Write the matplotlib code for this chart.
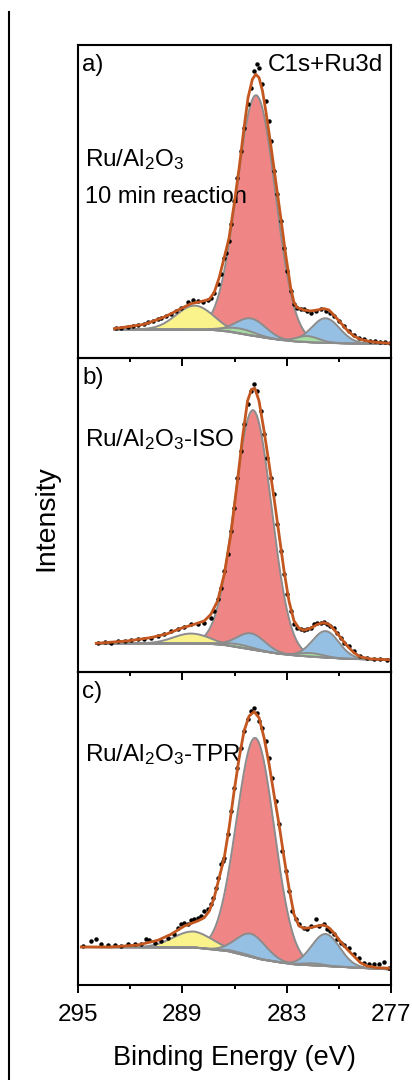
import numpy as np
import matplotlib
matplotlib.use('Agg')
import matplotlib.pyplot as plt
from matplotlib.lines import Line2D

plt.rcParams['font.family'] = ['Liberation Sans', 'DejaVu Sans']
plt.rcParams['mathtext.fontset'] = 'custom'
plt.rcParams['mathtext.rm'] = 'Liberation Sans'
plt.rcParams['mathtext.it'] = 'Liberation Sans:italic'
plt.rcParams['mathtext.default'] = 'regular'

# ---------------- data (binding energy in eV, intensity in a.u.) ----------------
# Panel a) Ru/Al2O3 10 min reaction
a_be = [292.80, 292.52, 292.13, 291.85, 291.56, 291.18, 290.99, 290.70, 290.41, 290.22,
        289.94, 289.65, 289.36, 289.08, 288.69, 288.41, 288.12, 287.83, 287.55, 287.36,
        287.17, 286.97, 286.78, 286.59, 286.50, 286.31, 286.21, 286.02, 285.83, 285.64,
        285.45, 285.25, 285.06, 284.87, 284.68, 284.59, 284.39, 284.20, 284.01, 283.92,
        283.73, 283.53, 283.34, 283.15, 282.96, 282.77, 282.58, 282.39, 282.20, 282.01,
        281.81, 281.62, 281.34, 281.05, 280.76, 280.48, 280.29, 280.00, 279.71, 279.43,
        279.14, 278.85, 278.57, 278.18, 277.90, 277.61, 277.32, 277.04]
a_int = [30.0, 30.7, 31.3, 32.3, 33.0, 34.7, 36.7, 37.3, 39.0, 40.0,
         42.3, 44.7, 47.3, 50.7, 56.7, 58.0, 57.3, 56.7, 58.0, 60.7,
         65.7, 74.0, 84.0, 100.7, 105.7, 117.3, 134.0, 157.3, 180.7, 207.3,
         230.7, 254.0, 270.7, 287.3, 294.0, 290.7, 274.0, 257.3, 237.3, 217.3,
         187.3, 164.0, 137.3, 110.7, 87.3, 67.3, 54.0, 50.7, 49.0, 49.0,
         47.3, 45.7, 47.3, 49.0, 47.3, 45.7, 42.3, 37.3, 32.3, 27.3,
         23.3, 20.7, 19.0, 17.3, 17.3, 16.3, 16.3, 15.7]
a_fit_be = [292.90, 291.18, 290.03, 289.27, 288.50, 287.93, 287.45, 287.17, 286.88, 286.59,
            286.31, 286.02, 285.73, 285.45, 285.22, 284.97, 284.78, 284.59, 284.39, 284.20,
            283.92, 283.63, 283.34, 283.06, 282.77, 282.58, 282.39, 282.01, 281.62, 281.24,
            280.86, 280.57, 280.29, 279.90, 279.52, 279.14, 278.76, 278.18, 277.61, 277.04]
a_fit_int = [29.7, 34.0, 41.3, 48.0, 54.7, 56.7, 59.0, 65.7, 80.7, 100.7,
             120.7, 154.0, 190.7, 230.7, 260.7, 279.0, 284.0, 280.7, 267.3, 247.3,
             214.0, 177.3, 140.7, 104.0, 70.7, 55.7, 50.7, 48.3, 47.3, 48.3,
             49.7, 48.3, 43.3, 35.7, 28.0, 22.3, 19.0, 16.7, 15.7, 15.0]
a_bg_be = [292.90, 287.36, 286.40, 285.45, 284.49, 283.53, 282.58, 281.62, 279.71, 277.04]
a_bg_int = [29.0, 28.6, 27.0, 24.0, 21.3, 18.8, 17.0, 16.0, 15.0, 14.5]
# components: red, yellow, blue, green, blue, green
a_centers = [284.75, 288.30, 285.06, 285.70, 280.76, 281.80]
a_heights = [241.0, 24.0, 17.0, 5.0, 24.5, 6.0]
a_fwhm = [2.6, 2.5, 2.0, 2.0, 1.9, 1.5]

# Panel b) Ru/Al2O3-ISO
b_be = [293.85, 293.47, 293.09, 292.71, 292.32, 291.94, 291.56, 291.18, 290.80, 290.41,
        290.03, 289.65, 289.27, 288.88, 288.50, 288.12, 287.74, 287.36, 287.17, 286.97,
        286.78, 286.59, 286.40, 286.21, 286.02, 285.83, 285.64, 285.45, 285.25, 285.06,
        284.87, 284.68, 284.49, 284.30, 284.11, 283.92, 283.73, 283.53, 283.34, 283.15,
        282.96, 282.77, 282.58, 282.39, 282.20, 282.01, 281.81, 281.62, 281.43, 281.24,
        281.05, 280.86, 280.67, 280.48, 280.29, 280.09, 279.90, 279.71, 279.43, 279.14,
        278.76, 278.37, 277.99, 277.61, 277.23]
b_int = [29.0, 30.0, 29.0, 30.7, 30.7, 31.3, 32.3, 33.0, 34.0, 35.7,
         37.3, 40.7, 42.3, 44.7, 47.3, 47.3, 49.0, 54.0, 60.7, 72.3,
         84.0, 100.7, 117.3, 140.7, 164.0, 194.0, 220.7, 247.3, 267.3, 280.7,
         287.3, 280.7, 260.7, 237.3, 214.0, 194.0, 177.3, 147.3, 120.7, 97.3,
         77.3, 60.7, 47.3, 44.0, 42.3, 41.3, 42.3, 44.0, 47.3, 49.0,
         49.0, 49.7, 47.3, 45.7, 43.3, 39.0, 34.0, 29.0, 25.7, 20.7,
         15.7, 14.0, 12.7, 12.7, 12.0]
b_fit_be = [293.95, 292.13, 290.80, 289.84, 289.08, 288.31, 287.74, 287.36, 286.97, 286.59,
            286.21, 285.83, 285.54, 285.25, 285.02, 284.83, 284.59, 284.30, 284.01, 283.73,
            283.44, 283.15, 282.87, 282.58, 282.29, 282.01, 281.62, 281.24, 280.86, 280.57,
            280.29, 279.90, 279.52, 279.14, 278.76, 278.18, 277.04]
b_fit_int = [28.3, 30.7, 34.0, 38.0, 43.3, 47.3, 50.7, 57.3, 70.7, 97.3,
             137.3, 190.7, 234.0, 270.7, 282.3, 283.3, 270.7, 240.7, 207.3, 174.0,
             137.3, 100.7, 70.7, 50.7, 43.3, 41.3, 43.3, 47.3, 49.0, 47.3,
             42.3, 34.0, 25.7, 19.0, 14.7, 12.7, 11.7]
b_bg_be = [293.95, 287.50, 286.59, 285.50, 284.49, 283.50, 282.58, 281.60, 279.71, 277.04]
b_bg_int = [28.3, 28.0, 26.7, 23.5, 20.7, 18.0, 16.3, 15.0, 13.0, 11.7]
b_centers = [284.93, 288.50, 285.06, 285.80, 280.76, 281.60]
b_heights = [239.5, 10.0, 16.0, 3.0, 26.4, 3.5]
b_fwhm = [2.5, 2.4, 1.9, 2.0, 1.8, 1.6]

# Panel c) Ru/Al2O3-TPR
c_be = [294.71, 294.24, 293.95, 293.66, 293.28, 292.90, 292.52, 292.13, 291.75, 291.37,
        291.08, 290.89, 290.60, 290.22, 289.84, 289.46, 289.27, 289.08, 288.88, 288.69,
        288.50, 288.31, 288.12, 287.93, 287.74, 287.55, 287.36, 287.26, 287.07, 286.97,
        286.78, 286.69, 286.59, 286.40, 286.21, 286.02, 285.83, 285.64, 285.45, 285.25,
        285.06, 284.87, 284.68, 284.59, 284.39, 284.20, 284.01, 283.82, 283.63, 283.44,
        283.25, 283.06, 282.87, 282.67, 282.48, 282.29, 282.01, 281.81, 281.62, 281.34,
        281.15, 280.86, 280.67, 280.48, 280.29, 280.09, 279.90, 279.71, 279.43, 279.14,
        278.85, 278.57, 278.28, 277.99, 277.71, 277.42, 277.13]
c_int = [38.7, 44.0, 46.3, 41.3, 40.0, 39.7, 39.0, 40.7, 41.3, 40.7,
         45.7, 44.7, 42.3, 44.0, 47.3, 50.7, 57.3, 60.7, 62.3, 60.7,
         64.7, 65.7, 67.3, 69.0, 74.0, 75.7, 80.7, 87.3, 97.3, 107.3,
         120.7, 124.0, 127.3, 150.7, 174.0, 197.3, 217.3, 237.3, 254.0, 265.7,
         274.0, 277.3, 272.3, 264.0, 257.3, 244.0, 227.3, 207.3, 184.0, 160.7,
         134.0, 114.0, 94.0, 74.0, 65.7, 60.7, 57.3, 55.7, 59.0, 65.7,
         59.0, 60.7, 55.7, 54.0, 50.7, 45.7, 42.3, 40.0, 37.3, 30.7,
         27.3, 22.3, 20.7, 21.3, 20.7, 23.0, 17.3]
c_fit_be = [294.81, 293.09, 291.56, 290.41, 289.65, 288.88, 288.12, 287.74, 287.45, 287.17,
            286.88, 286.59, 286.31, 286.02, 285.73, 285.45, 285.16, 284.87, 284.59, 284.30,
            284.01, 283.73, 283.44, 283.15, 282.87, 282.58, 282.29, 282.01, 281.62, 281.24,
            280.86, 280.57, 280.29, 279.90, 279.52, 279.14, 278.76, 278.37, 277.80, 277.04]
c_fit_int = [38.0, 38.0, 40.0, 44.7, 50.7, 59.0, 64.0, 67.3, 74.0, 87.3,
             107.3, 127.3, 157.3, 194.0, 227.3, 254.0, 269.0, 273.3, 267.3, 247.3,
             220.7, 190.7, 160.7, 127.3, 97.3, 70.7, 59.0, 56.7, 57.3, 59.0,
             60.0, 57.3, 52.3, 43.3, 35.7, 29.0, 22.3, 19.0, 17.3, 16.7]
c_bg_be = [294.81, 288.31, 286.40, 284.49, 283.53, 282.58, 279.71, 277.04]
c_bg_int = [38.0, 37.5, 34.0, 25.7, 23.0, 20.7, 18.0, 15.7]
c_centers = [284.80, 288.40, 285.06, 285.80, 280.76, 281.50]
c_heights = [220.0, 16.0, 23.0, 1.5, 32.0, 2.0]
c_fwhm = [2.55, 2.7, 2.0, 2.0, 1.9, 1.5]

component_colors = ['#F08585', '#FAF38C', '#95C0E4', '#A7DDA2', '#95C0E4', '#A7DDA2']
panel_letters = ['a)', 'b)', 'c)']
x_major = [295, 289, 283, 277]
x_minor = [292, 286, 280]

# ---------------- figure ----------------
W, H = 412, 1080
fig = plt.figure(figsize=(W / 100, H / 100), dpi=100)
fig.patch.set_facecolor('white')

left, right = 78, 391
tops = [45.0, 358.3, 671.7]
ph = 313.3

panels = [
    (a_be, a_int, a_fit_be, a_fit_int, a_bg_be, a_bg_int, a_centers, a_heights, a_fwhm),
    (b_be, b_int, b_fit_be, b_fit_int, b_bg_be, b_bg_int, b_centers, b_heights, b_fwhm),
    (c_be, c_int, c_fit_be, c_fit_int, c_bg_be, c_bg_int, c_centers, c_heights, c_fwhm),
]

axes = []
for i, (be, it, fbe, fit, bgbe, bgit, cen, hei, fw) in enumerate(panels):
    ax = fig.add_axes([left / W, 1 - (tops[i] + ph) / H, (right - left) / W, ph / H])
    axes.append(ax)
    x = np.linspace(max(bgbe), min(bgbe), 600)
    base = np.interp(x, bgbe[::-1], bgit[::-1])
    for k in range(len(cen)):
        g = hei[k] * np.exp(-4 * np.log(2) * (x - cen[k]) ** 2 / fw[k] ** 2)
        ax.fill_between(x, base, base + g, color=component_colors[k], lw=0, zorder=2 + k * 0.1)
        ax.plot(x, base + g, color='#8C8C8C', lw=1.4, zorder=2.05 + k * 0.1)
    ax.plot(x, base, color='#8C8C8C', lw=1.6, zorder=3)
    ax.plot(be, it, 'o', ms=3.2, color='black', mec='none', zorder=4)
    ax.plot(fbe, fit, '-', color='#C4561F', lw=2.0, zorder=5, solid_joinstyle='round')

    ax.set_xlim(295, 277)
    ax.set_ylim(0, ph)
    ax.set_xticks(x_major)
    ax.set_xticks(x_minor, minor=True)
    ax.set_yticks([])
    ax.tick_params(axis='x', which='major', direction='out', length=5.8, width=1.4,
                   labelsize=17.5, pad=8, top=False, labelbottom=(i == 2))
    ax.tick_params(axis='x', which='minor', direction='out', length=3.2, width=1.4, top=False)
    for s in ax.spines.values():
        s.set_linewidth(1.5)
        s.set_zorder(10)
    ax.set_facecolor('none')
    ax.text(0.014, 0.917, panel_letters[i], transform=ax.transAxes, fontsize=17.5,
            ha='left', va='baseline')

axes[0].text(0.974, 0.917, 'C1s+Ru3d', transform=axes[0].transAxes, fontsize=17.5,
             ha='right', va='baseline')
axes[0].text(0.022, 0.612, r'Ru/Al$_2$O$_3$', transform=axes[0].transAxes, fontsize=17.5,
             ha='left', va='baseline')
axes[0].text(0.022, 0.495, '10 min reaction', transform=axes[0].transAxes, fontsize=17,
             ha='left', va='baseline')
axes[1].text(0.022, 0.720, r'Ru/Al$_2$O$_3$-ISO', transform=axes[1].transAxes, fontsize=17.5,
             ha='left', va='baseline')
axes[2].text(0.022, 0.716, r'Ru/Al$_2$O$_3$-TPR', transform=axes[2].transAxes, fontsize=17.5,
             ha='left', va='baseline')

fig.text(46 / W, 1 - 518 / H, 'Intensity', rotation=90, ha='center', va='center', fontsize=20.5)
fig.text(234 / W, 1 - 1058 / H, 'Binding Energy (eV)', ha='center', va='center', fontsize=19.5)

fig.add_artist(Line2D([8.5 / W, 8.5 / W], [0, 1 - 12 / H], transform=fig.transFigure,
                      color='black', lw=1.5))

fig.savefig('out.png', dpi=100, facecolor='white')
